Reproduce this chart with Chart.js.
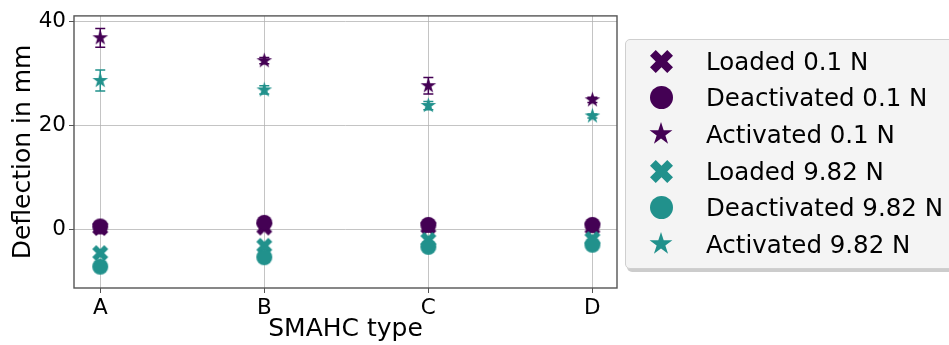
<!DOCTYPE html>
<html lang="en">
  <head>
    <meta charset="UTF-8" />
    <title>Deflection</title>
    <style>
      html, body {
        margin: 0;
        padding: 0;
        background: #fff;
        overflow: hidden;
      }
      #wrap {
        position: relative;
        width: 949px;
        height: 345px;
      }
      #legend {
        position: absolute;
        left: 625px;
        top: 39px;
        width: 350px;
        height: 228px;
        background: #f4f4f4;
        border: 1px solid #cfcfcf;
        border-radius: 5px;
        box-shadow: 2px 3px 0 rgba(0, 0, 0, 0.2);
        font-family: "DejaVu Sans", sans-serif;
        font-size: 24.5px;
        color: #000;
      }
      .item {
        position: absolute;
        left: 0;
        height: 30px;
        display: flex;
        align-items: center;
      }
      .item canvas {
        position: absolute;
      }
      .item span {
        position: absolute;
        left: 80px;
        white-space: nowrap;
      }
    </style>
  </head>
  <body>
    <div id="wrap">
      <canvas id="chart" width="949" height="345"></canvas>
      <div id="legend"></div>
    </div>

    <script src="https://cdn.jsdelivr.net/npm/chart.js@4.4.1/dist/chart.umd.min.js"></script>
    <script>
      const categories = ["A", "B", "C", "D"];
      const yTicks = [0, 20, 40];

      const loaded01 = [0.3, 0.4, 0.5, 0.4];
      const deactivated01 = [0.6, 1.3, 0.9, 0.9];
      const activated01 = [36.8, 32.4, 27.6, 24.9];
      const loaded982 = [-4.5, -3.1, -2.0, -1.8];
      const deactivated982 = [-7.1, -5.3, -3.3, -2.9];
      const activated982 = [28.6, 26.8, 23.8, 21.8];

      const errLoaded01 = [0.4, 0.4, 0.4, 0.4];
      const errDeactivated01 = [0.5, 0.5, 0.5, 0.5];
      const errActivated01 = [1.8, 0.6, 1.6, 0.5];
      const errLoaded982 = [0.6, 0.6, 0.5, 0.5];
      const errDeactivated982 = [0.9, 0.7, 0.6, 0.6];
      const errActivated982 = [2.0, 0.8, 0.8, 0.4];

      const purple = "#440154";
      const teal = "#21918c";

      // filled marker shapes like matplotlib's X, o and *
      function marker(shape, color, size) {
        let c = document.createElement("canvas");
        let s = Math.ceil(size) + 2;
        c.width = s;
        c.height = s;
        let ctx = c.getContext("2d");
        ctx.fillStyle = color;
        ctx.translate(s / 2, s / 2);
        ctx.beginPath();
        if (shape === "x") {
          const pts = [[-1, -2], [0, -1], [1, -2], [2, -1], [1, 0], [2, 1],
            [1, 2], [0, 1], [-1, 2], [-2, 1], [-1, 0], [-2, -1]];
          pts.forEach((p, i) => {
            let px = (p[0] / 4) * size, py = (p[1] / 4) * size;
            if (i === 0) ctx.moveTo(px, py);
            else ctx.lineTo(px, py);
          });
        } else if (shape === "o") {
          ctx.arc(0, 0, size / 2, 0, Math.PI * 2);
        } else {
          let R = size / 2, r = R * 0.381966;
          for (let i = 0; i < 10; i++) {
            let a = -Math.PI / 2 + (i * Math.PI) / 5;
            let rr = i % 2 === 0 ? R : r;
            if (i === 0) ctx.moveTo(rr * Math.cos(a), rr * Math.sin(a));
            else ctx.lineTo(rr * Math.cos(a), rr * Math.sin(a));
          }
        }
        ctx.closePath();
        ctx.fill();
        return c;
      }

      const series = [
        { label: "Loaded 0.1 N", shape: "x", color: purple, values: loaded01, err: errLoaded01 },
        { label: "Deactivated 0.1 N", shape: "o", color: purple, values: deactivated01, err: errDeactivated01 },
        { label: "Activated 0.1 N", shape: "*", color: purple, values: activated01, err: errActivated01 },
        { label: "Loaded 9.82 N", shape: "x", color: teal, values: loaded982, err: errLoaded982 },
        { label: "Deactivated 9.82 N", shape: "o", color: teal, values: deactivated982, err: errDeactivated982 },
        { label: "Activated 9.82 N", shape: "*", color: teal, values: activated982, err: errActivated982 },
      ];

      const chartSize = { x: 16, o: 16, "*": 16.5 };
      const legendSize = { x: 23, o: 23, "*": 24 };

      const errorBars = {
        id: "errorBars",
        beforeDatasetsDraw(chart) {
          const ctx = chart.ctx;
          const xs = chart.scales.x, ys = chart.scales.y;
          ctx.save();
          ctx.lineWidth = 1.5;
          chart.data.datasets.forEach((ds) => {
            ctx.strokeStyle = ds.backgroundColor;
            ds.data.forEach((p, i) => {
              let e = ds.errors[i];
              let px = xs.getPixelForValue(p.x);
              let y1 = ys.getPixelForValue(p.y - e);
              let y2 = ys.getPixelForValue(p.y + e);
              ctx.beginPath();
              ctx.moveTo(px, y1);
              ctx.lineTo(px, y2);
              ctx.moveTo(px - 5, y1);
              ctx.lineTo(px + 5, y1);
              ctx.moveTo(px - 5, y2);
              ctx.lineTo(px + 5, y2);
              ctx.stroke();
            });
          });
          ctx.restore();
        },
      };

      const frame = {
        id: "frame",
        afterDatasetsDraw(chart) {
          const a = chart.chartArea;
          const ctx = chart.ctx;
          ctx.save();
          ctx.strokeStyle = "#555";
          ctx.lineWidth = 1.4;
          ctx.strokeRect(a.left, a.top, a.right - a.left, a.bottom - a.top);
          ctx.restore();
        },
      };

      const font = "'DejaVu Sans', sans-serif";

      new Chart("chart", {
        type: "scatter",
        data: {
          datasets: series.map((s, k) => ({
            label: s.label,
            data: categories.map((c, i) => ({ x: i, y: s.values[i] })),
            errors: s.err,
            backgroundColor: s.color,
            pointStyle: marker(s.shape, s.color, chartSize[s.shape]),
            order: series.length - k,
          })),
        },
        options: {
          responsive: false,
          animation: false,
          devicePixelRatio: 1,
          layout: { padding: { left: 0, top: 13, right: 332, bottom: 0 } },
          plugins: { legend: { display: false }, tooltip: { enabled: false } },
          scales: {
            x: {
              type: "linear",
              min: -0.16,
              max: 3.15,
              afterBuildTicks: (s) => {
                s.ticks = categories.map((c, i) => ({ value: i }));
              },
              afterFit: (s) => {
                s.height = 57;
              },
              ticks: {
                callback: (v) => categories[Math.round(v)],
                color: "#000",
                font: { family: font, size: 21.5 },
                padding: 3,
              },
              grid: { color: "rgba(176,176,176,0.75)", tickColor: "#555", tickLength: 5, lineWidth: 1 },
              border: { display: false },
              title: {
                display: true,
                text: "SMAHC type",
                color: "#000",
                font: { family: font, size: 25 },
                padding: { top: 0, bottom: 1 },
              },
            },
            y: {
              min: -11.2,
              max: 41,
              afterBuildTicks: (s) => {
                s.ticks = yTicks.map((v) => ({ value: v }));
              },
              afterFit: (s) => {
                s.width = 74;
              },
              ticks: {
                color: "#000",
                font: { family: font, size: 21.5 },
                padding: 3,
              },
              grid: { color: "rgba(176,176,176,0.75)", tickColor: "#555", tickLength: 5, lineWidth: 1 },
              border: { display: false },
              title: {
                display: true,
                text: "Deflection in mm",
                color: "#000",
                font: { family: font, size: 25 },
                padding: { top: 8, bottom: 0 },
              },
            },
          },
        },
        plugins: [errorBars, frame],
      });

      // legend box on the right
      const legend = document.getElementById("legend");
      const rowTops = [21, 57.7, 94.3, 131, 167.7, 204.3];
      series.forEach((s, k) => {
        let item = document.createElement("div");
        item.className = "item";
        item.style.top = rowTops[k] - 15 + "px";
        let m = marker(s.shape, s.color, legendSize[s.shape]);
        m.style.left = 35 - m.width / 2 + "px";
        m.style.top = 15 - m.height / 2 + "px";
        let t = document.createElement("span");
        t.textContent = s.label;
        item.appendChild(m);
        item.appendChild(t);
        legend.appendChild(item);
      });
    </script>
  </body>
</html>
